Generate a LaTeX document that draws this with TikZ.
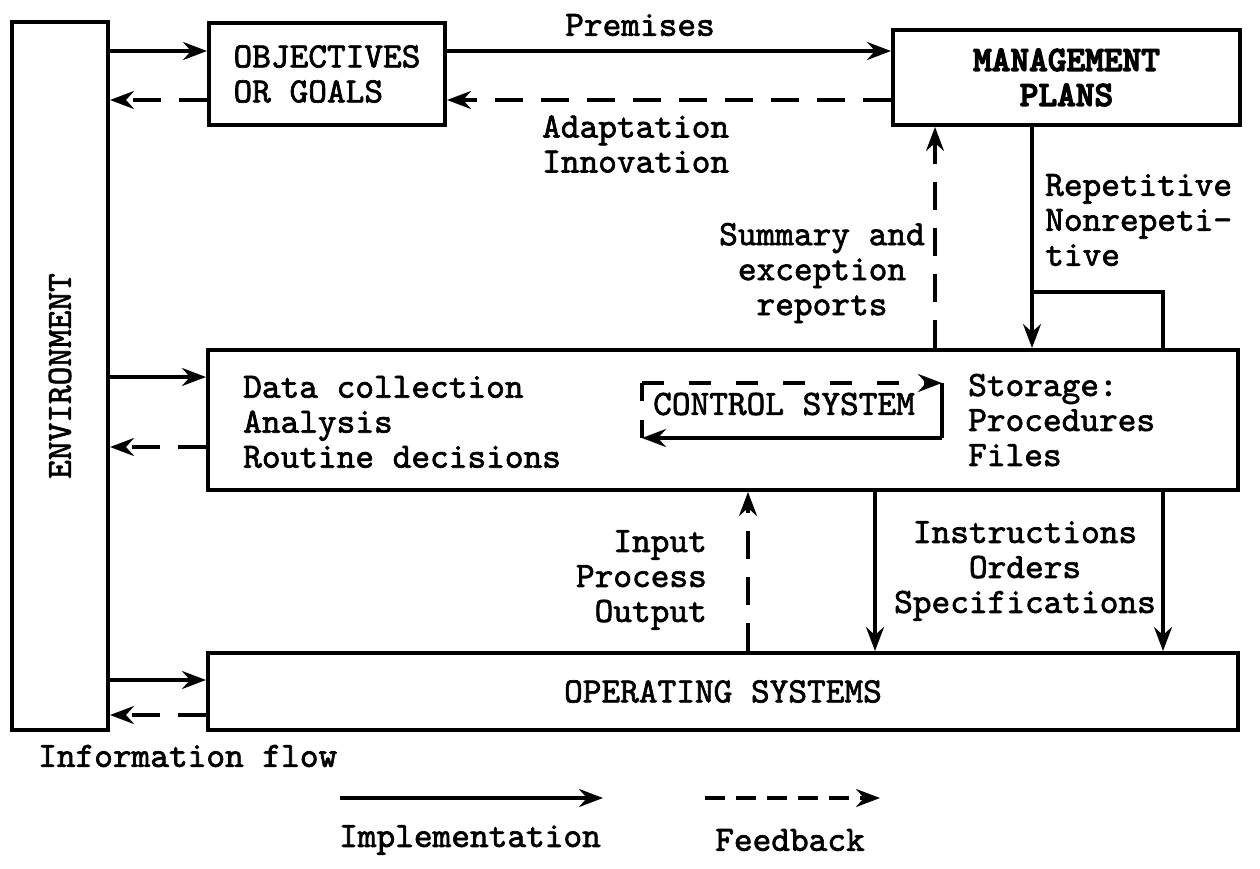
\documentclass[tikz,border=0pt]{standalone}
\usepackage{fontspec}
\newfontfamily\diagfont[FakeBold=1.9]{lmmono10-regular.otf}
\newfontfamily\diagbold[FakeBold=3.5]{lmmonolt10-bold.otf}
\usetikzlibrary{arrows.meta}
\begin{document}
\begin{tikzpicture}[x=1pt,y=-1pt,
  every node/.style={inner sep=0pt},
  box/.style={draw, line width=4pt},
  impl/.style={line width=3.5pt, -{Stealth[length=24pt,width=18pt,inset=8pt]}},
  fb/.style={impl, dash pattern=on 28pt off 18pt},
  plain/.style={line width=3.5pt},
  txt/.style={align=left},
  font=\diagfont\fontsize{35.6}{35}\selectfont]
\useasboundingbox (0,0) rectangle (1260,868);

% boxes
\node[box, minimum width=96pt, minimum height=708pt] (env) at (60,376) {\rotatebox{90}{ENVIRONMENT}};
\node[box, minimum width=236pt, minimum height=102pt, align=left] (obj) at (327,74) {OBJECTIVES\\OR GOALS};
\node[box, minimum width=347pt, minimum height=95pt, align=center, font=\diagbold\fontsize{35.6}{35}\selectfont] (mgmt) at (1066.5,77.5) {MANAGEMENT\\PLANS};
\node[box, minimum width=1030pt, minimum height=140pt] (mid) at (723,420) {};
\node[box, minimum width=1030pt, minimum height=77pt] (op) at (723,691.5) {OPERATING SYSTEMS};

% texts inside control box
\node[txt, anchor=west] (dc) at (243,422) {Data collection\\Analysis\\Routine decisions};
\node[txt, anchor=west] (st) at (968,420) {Storage:\\Procedures\\Files};
\node (ctrl) at (784,404) {CONTROL SYSTEM};

% labels
\node (prem) at (640,25) {Premises};
\node[txt, anchor=west] (adap) at (542,144) {Adaptation\\Innovation};
\node[align=center] (summ) at (822,273) {Summary and\\exception\\reports};
\node[txt, anchor=west] (rep) at (1045,220) {Repetitive\\Nonrepeti-\\tive};
\node[align=right, anchor=east] (ipo) at (707,580) {Input\\Process\\Output};
\node[align=center] (ins) at (1025,571) {Instructions\\Orders\\Specifications};
\node[anchor=west] (info) at (38,756) {Information flow};
\node (implt) at (470,840) {Implementation};
\node (fbt) at (790,840) {Feedback};

% helper coordinates
\coordinate (r50) at (0,51);
\coordinate (r100) at (0,100);
\coordinate (r380) at (0,377);
\coordinate (r453) at (0,447);
\coordinate (r678) at (0,680);
\coordinate (r715) at (0,715);
\coordinate (b292) at (0,292);
\coordinate (c935) at (935,0);
\coordinate (c1032) at (1032,0);
\coordinate (c1163) at (1163,0);
\coordinate (c745) at (748,0);
\coordinate (c875) at (875,0);

% connectors
\draw[impl] (env.east |- r50) -- (obj.west |- r50);
\draw[fb] (obj.west |- r100) -- (env.east |- r100);
\draw[impl] (obj.east |- r50) -- (mgmt.west |- r50);
\draw[fb] (mgmt.west |- r100) -- (obj.east |- r100);
\draw[fb] (c935 |- mid.north) -- (c935 |- mgmt.south);
\draw[impl] (c1032 |- mgmt.south) -- (c1032 |- mid.north);
\draw[plain] (c1032 |- b292) -- (c1163 |- b292) -- (c1163 |- mid.north);
\draw[impl] (env.east |- r380) -- (mid.west |- r380);
\draw[fb] (mid.west |- r453) -- (env.east |- r453);
\draw[fb] (c745 |- op.north) -- (c745 |- mid.south);
\draw[impl] (c875 |- mid.south) -- (c875 |- op.north);
\draw[impl] (c1163 |- mid.south) -- (c1163 |- op.north);
\draw[impl] (env.east |- r678) -- (op.west |- r678);
\draw[fb] (op.west |- r715) -- (env.east |- r715);

% control system loop
\coordinate (ctl) at (642,383);
\coordinate (ctr) at (942,383);
\coordinate (cbr) at (942,438);
\coordinate (cbl) at (642,438);
\draw[fb, dash pattern=on 22pt off 25pt] (ctl) -- (ctr);
\draw[plain] (ctl) -- ++(0,18);
\draw[plain] (ctr) -- (cbr);
\draw[impl] (cbr) -- (cbl);
\draw[plain] (cbl) -- ++(0,-18);

% legend
\coordinate (l1a) at (340,798);
\coordinate (l1b) at (603,798);
\coordinate (l2a) at (705,798);
\coordinate (l2b) at (880,798);
\draw[impl] (l1a) -- (l1b);
\draw[fb, dash pattern=on 20pt off 11pt] (l2a) -- (l2b);
\end{tikzpicture}
\end{document}
